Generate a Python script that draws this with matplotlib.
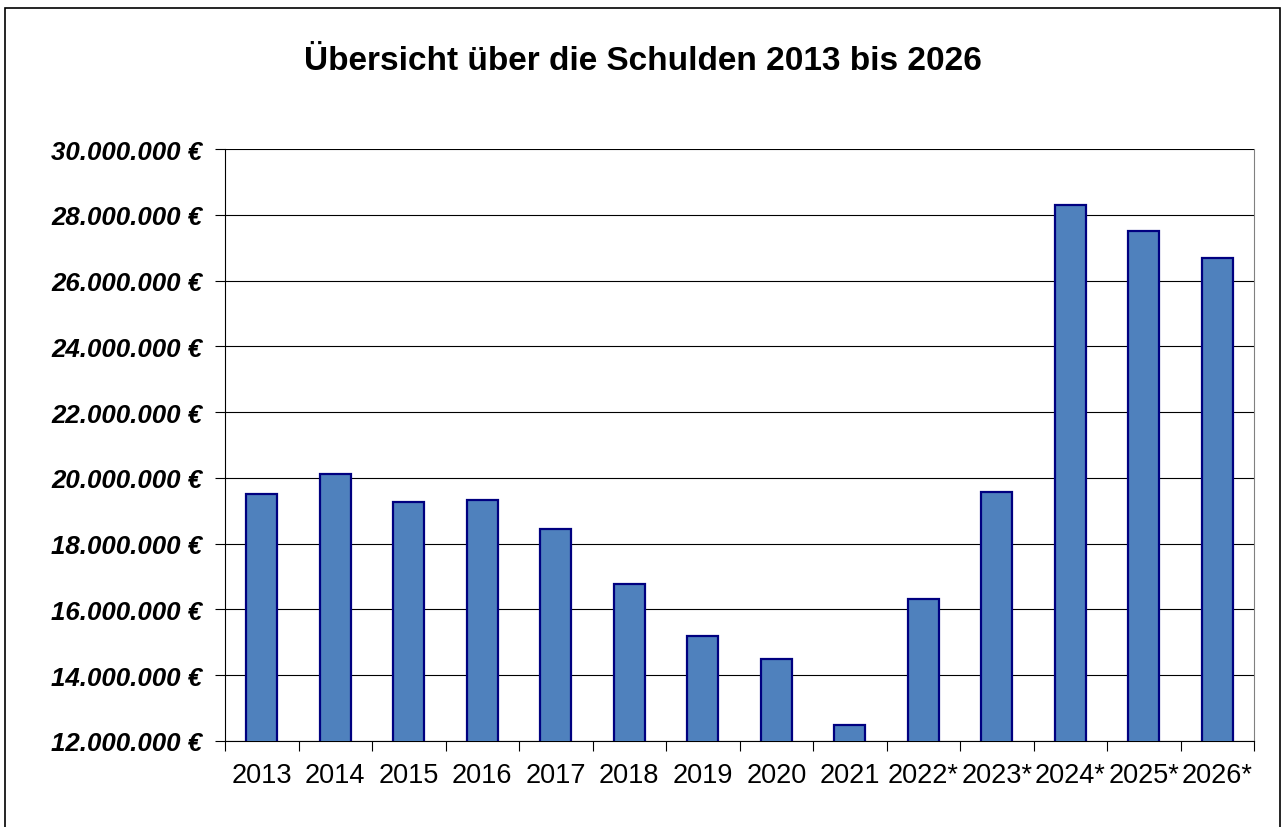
import matplotlib.pyplot as plt
from matplotlib.patches import Rectangle
from matplotlib.ticker import FuncFormatter, MultipleLocator
import numpy as np

plt.rcParams.update({
    'font.family': 'Liberation Sans',
})

# data (Schulden in EUR)
years = ['2013', '2014', '2015', '2016', '2017', '2018', '2019', '2020',
         '2021', '2022*', '2023*', '2024*', '2025*', '2026*']
debts = [19.50e6, 20.12e6, 19.26e6, 19.32e6, 18.46e6, 16.78e6, 15.18e6,
         14.48e6, 12.49e6, 16.31e6, 19.56e6, 28.30e6, 27.50e6, 26.68e6]

W, H = 1286, 828
fig = plt.figure(figsize=(W / 100, H / 100), dpi=100)
ax = fig.add_axes([225 / W, 1 - 742 / H, (1254 - 225) / W, (742 - 150) / H])

# outer chart frame
fig.patches.append(Rectangle((5 / W, -0.02), (1280 - 5) / W, 1.02 - 9 / H,
                             transform=fig.transFigure, fill=False,
                             edgecolor='black', linewidth=1.2, zorder=0))

x = np.arange(len(years))
ax.bar(x, debts, width=0.42, bottom=0, color='#4F81BD', edgecolor='#000080',
       linewidth=1.6, zorder=3)

ax.set_ylim(12e6, 30e6)
ax.set_xlim(-0.5, len(years) - 0.5)

ax.yaxis.set_major_locator(MultipleLocator(2e6))
ax.yaxis.set_major_formatter(FuncFormatter(
    lambda v, p: '{:,.0f} €'.format(v).replace(',', '.')))
ax.grid(axis='y', color='black', linewidth=0.8, zorder=1)
ax.set_axisbelow(True)

ax.set_xticks(x)
ax.set_xticklabels(years)
ax.set_xticks(np.arange(-0.5, len(years), 1), minor=True)
ax.tick_params(axis='x', which='major', length=0, pad=15, labelsize=19.5)
ax.tick_params(axis='x', which='minor', length=7, width=0.8, direction='out')
ax.tick_params(axis='y', length=7, width=0.8, direction='out', pad=9.5)
for lbl in ax.get_yticklabels():
    lbl.set_fontsize(18.6)
    lbl.set_fontweight('bold')
    lbl.set_fontstyle('italic')

ax.spines['top'].set_visible(False)
ax.spines['right'].set_color('#808080')
ax.spines['left'].set_color('black')
ax.spines['bottom'].set_color('black')

fig.text(0.5, 1 - 62 / H, 'Übersicht über die Schulden 2013 bis 2026',
         ha='center', va='center', fontsize=24, fontweight='bold')

fig.savefig('out.png', dpi=100)
